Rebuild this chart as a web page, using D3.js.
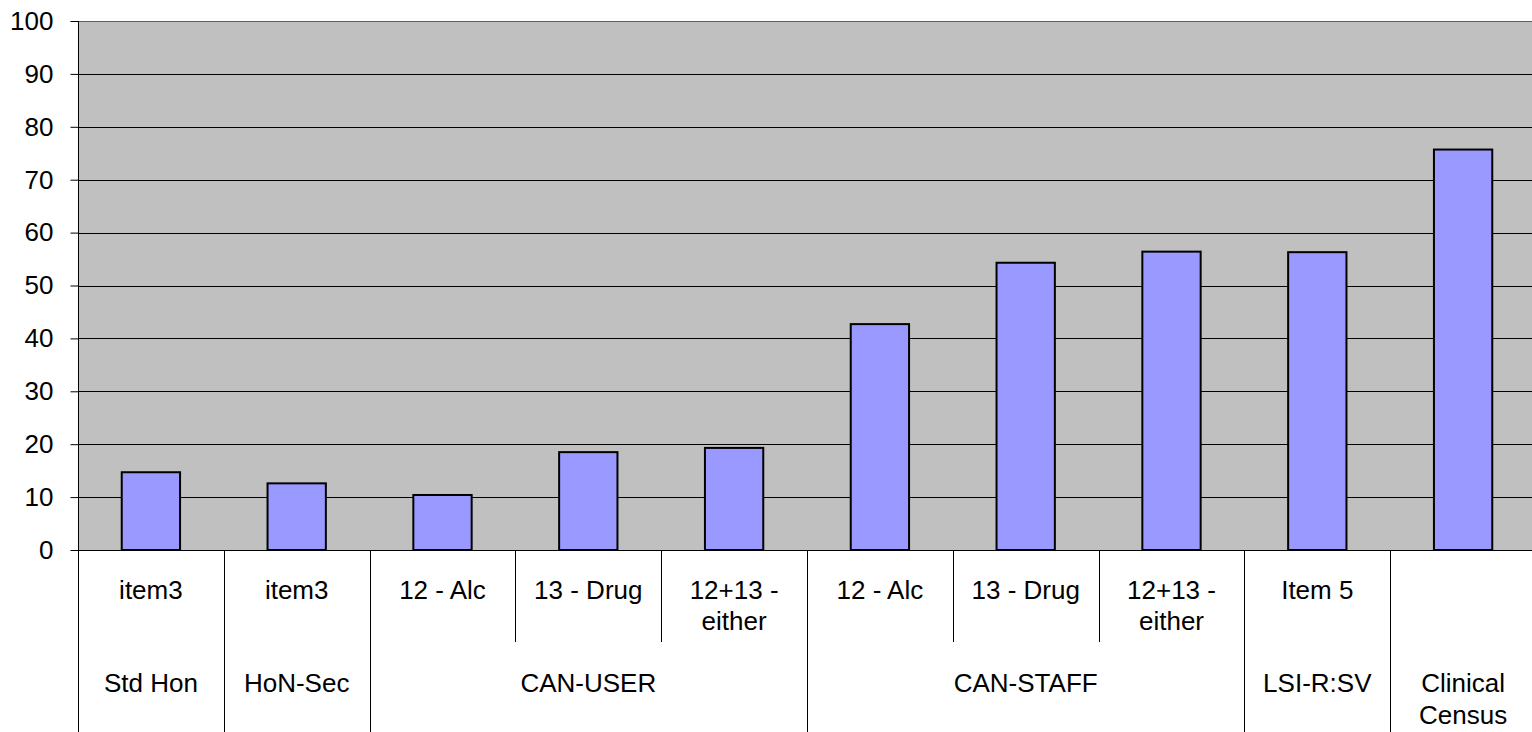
<!DOCTYPE html>
<html>
<head>
<meta charset="utf-8">
<script src="https://cdn.jsdelivr.net/npm/d3@7"></script>
<style>
  html, body { margin: 0; padding: 0; background: #ffffff; }
  svg { display: block; }
  text { font-family: Arial, "Liberation Sans", sans-serif; fill: #000; }
</style>
</head>
<body>
<svg id="chart" width="1532" height="732"></svg>
<script>
// ---- data ----
const categories = ["item3", "item3", "12 - Alc", "13 - Drug", "12+13 -\neither",
                    "12 - Alc", "13 - Drug", "12+13 -\neither", "Item 5", ""];
const groups = ["Std Hon", "HoN-Sec", "CAN-USER", "CAN-USER", "CAN-USER",
                "CAN-STAFF", "CAN-STAFF", "CAN-STAFF", "LSI-R:SV", "Clinical\nCensus"];
const values = [14.7, 12.6, 10.4, 18.5, 19.3, 42.7, 54.3, 56.4, 56.3, 75.7];
const yTicks = [0, 10, 20, 30, 40, 50, 60, 70, 80, 90, 100];

(function () {
// ---- layout ----
const W = 1532, H = 732;
const mLeft = 78, mRight = 1536, mTop = 21, mBottom = 550;
const fontSize = 26;

const svg = d3.select("#chart");

const x = d3.scaleBand()
  .domain(d3.range(categories.length))
  .range([mLeft, mRight])
  .paddingInner(0.6)
  .paddingOuter(0.3);
const step = x.step();

const y = d3.scaleLinear().domain([0, 100]).range([mBottom, mTop]);

// plot background
svg.append("rect")
  .attr("x", mLeft).attr("y", mTop)
  .attr("width", mRight - mLeft).attr("height", mBottom - mTop)
  .attr("fill", "#C0C0C0");

// gridlines
svg.append("g")
  .selectAll("line")
  .data(yTicks.filter(d => d > 0))
  .join("line")
  .attr("x1", mLeft).attr("x2", mRight)
  .attr("y1", d => Math.round(y(d)) + 0.5)
  .attr("y2", d => Math.round(y(d)) + 0.5)
  .attr("stroke", d => d === 100 ? "#606060" : "#000")
  .attr("stroke-width", 1);

// y axis
const yAxis = d3.axisLeft(y).tickValues(yTicks).tickSize(8).tickPadding(17).tickFormat(d3.format("d"));
const gy = svg.append("g").attr("transform", `translate(${mLeft + 0.5},0)`).call(yAxis);
gy.select(".domain").attr("stroke", "#000").attr("d", `M0,${mTop}V${mBottom}`);
gy.selectAll(".tick line").attr("stroke", "#000");
gy.selectAll(".tick text")
  .style("font-size", fontSize + "px")
  .style("font-family", "Arial, 'Liberation Sans', sans-serif")
  .attr("fill", "#000");

// bars
svg.append("g")
  .selectAll("rect")
  .data(values)
  .join("rect")
  .attr("x", (d, i) => x(i))
  .attr("y", d => y(d))
  .attr("width", x.bandwidth())
  .attr("height", d => y(0) - y(d))
  .attr("fill", "#9999FF")
  .attr("stroke", "#000")
  .attr("stroke-width", 2);

// x axis baseline
svg.append("line")
  .attr("x1", mLeft).attr("x2", mRight)
  .attr("y1", mBottom + 0.5).attr("y2", mBottom + 0.5)
  .attr("stroke", "#000");

// category dividers
const subBottom = 642;
const gx = svg.append("g");
for (let i = 0; i <= categories.length; i++) {
  const xp = Math.round(mLeft + i * step) + 0.5;
  const isGroupEdge = i === 0 || i === categories.length || groups[i] !== groups[i - 1];
  gx.append("line")
    .attr("x1", xp).attr("x2", xp)
    .attr("y1", mBottom).attr("y2", isGroupEdge ? H : subBottom)
    .attr("stroke", "#000").attr("stroke-width", 1);
}

// category labels
const lineH = 31;
const cat = svg.append("g").attr("text-anchor", "middle").style("font-size", fontSize + "px");
categories.forEach((c, i) => {
  if (!c) return;
  const cx = x(i) + x.bandwidth() / 2;
  const t = cat.append("text").attr("x", cx).attr("y", 599);
  c.split("\n").forEach((ln, k) => {
    t.append("tspan").attr("x", cx).attr("dy", k === 0 ? 0 : lineH).text(ln);
  });
});

// group labels
const grp = svg.append("g").attr("text-anchor", "middle").style("font-size", fontSize + "px");
const spans = [];
groups.forEach((g, i) => {
  if (i > 0 && groups[i - 1] === g) spans[spans.length - 1].end = i;
  else spans.push({ label: g, start: i, end: i });
});
spans.forEach(s => {
  const cx = (mLeft + s.start * step + mLeft + (s.end + 1) * step) / 2;
  const t = grp.append("text").attr("x", cx).attr("y", 692);
  s.label.split("\n").forEach((ln, k) => {
    t.append("tspan").attr("x", cx).attr("dy", k === 0 ? 0 : 32).text(ln);
  });
});
})();
</script>
</body>
</html>
